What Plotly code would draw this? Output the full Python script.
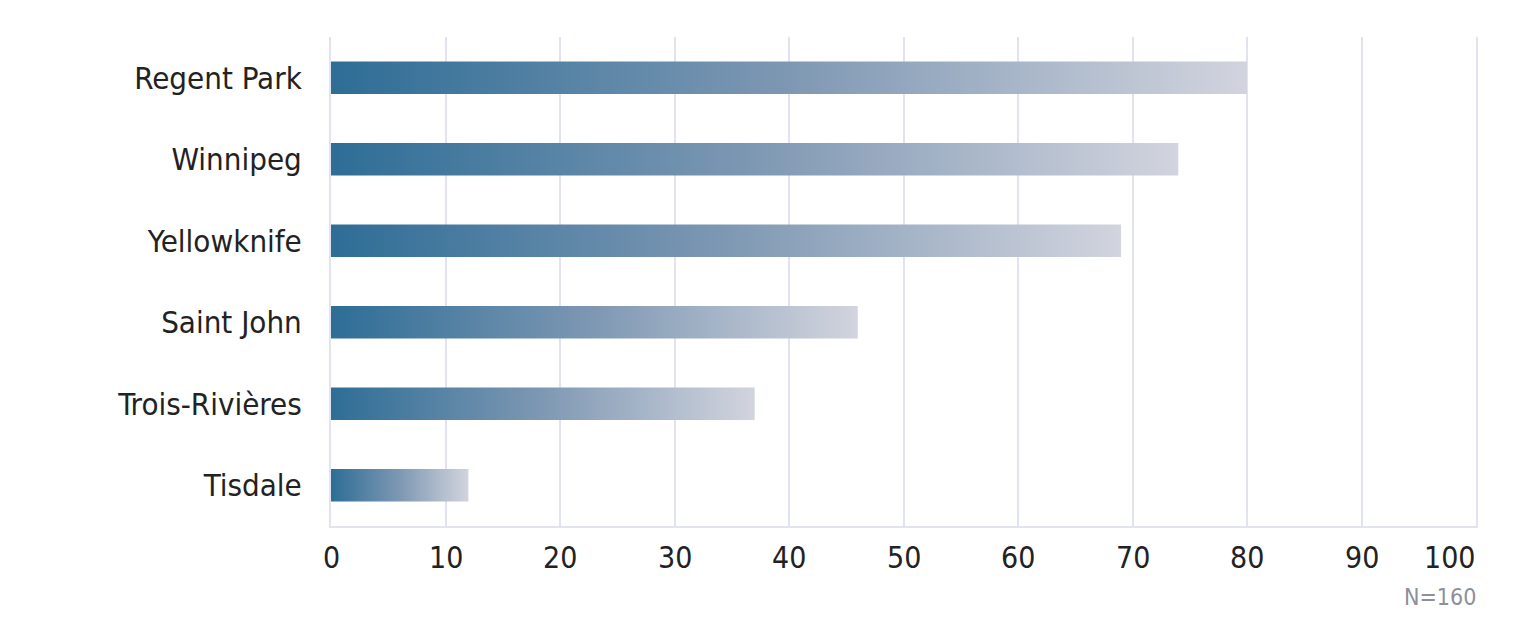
import plotly.graph_objects as go

categories = ["Regent Park", "Winnipeg", "Yellowknife", "Saint John", "Trois-Rivières", "Tisdale"]
values = [80, 74, 69, 46, 37, 12]
x_ticks = [0, 10, 20, 30, 40, 50, 60, 70, 80, 90, 100]
note = "N=160"

FONT = "Liberation Sans Narrow, DejaVu Sans Condensed, Roboto, sans-serif"
GRID = "#E2E3F1"
scale = [[0, "#2E6D96"], [0.5, "#7E98B3"], [1, "#D2D4DE"]]

n = len(categories)
ypos = [n - 1 - i for i in range(n)]
half = 0.2

fig = go.Figure()
for cat, v, y in zip(categories, values, ypos):
    fig.add_trace(go.Scatter(
        x=[0, v, v, 0, 0],
        y=[y - half, y - half, y + half, y + half, y - half],
        mode="lines", line=dict(width=0), fill="toself",
        fillgradient=dict(type="horizontal", colorscale=scale),
        hoverinfo="skip", showlegend=False, name=cat,
    ))

for t in x_ticks:
    fig.add_annotation(
        x=t, y=0, xref="x", yref="paper", yanchor="top",
        xanchor="right" if t == x_ticks[-1] else "center",
        xshift=2 if t == x_ticks[-1] else 0,
        yshift=-12, text=str(t), showarrow=False,
        font=dict(family=FONT, size=30, color="#222222"),
    )

fig.add_annotation(
    x=1, y=0, xref="paper", yref="paper", xanchor="right", yanchor="top",
    yshift=-56, xshift=2, text=note, showarrow=False,
    font=dict(family=FONT, size=23, color="#8E8F99"),
)

fig.update_layout(
    width=1516, height=621,
    margin=dict(l=323, r=48, t=29, b=103),
    paper_bgcolor="white", plot_bgcolor="white",
    xaxis=dict(range=[0, 100], tickvals=x_ticks, showticklabels=False,
               showgrid=True, gridcolor=GRID, gridwidth=2,
               zeroline=True, zerolinecolor=GRID, zerolinewidth=2,
               showline=True, linecolor=GRID, linewidth=2, fixedrange=True),
    yaxis=dict(range=[-0.5, n - 0.5], tickvals=ypos, ticktext=categories,
               showgrid=False, zeroline=False, ticks="",
               showline=True, mirror=True, linecolor=GRID, linewidth=2,
               ticklabelstandoff=21,
               tickfont=dict(family=FONT, size=31, color="#222222")),
)

fig.write_html("out.html")
